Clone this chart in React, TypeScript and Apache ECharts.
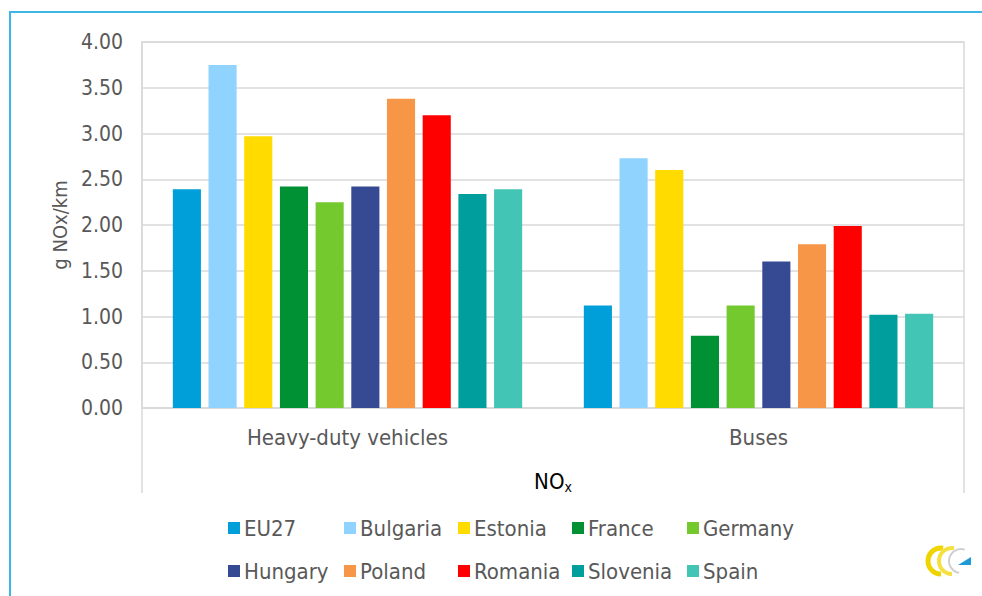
import React, { useEffect, useRef } from "react";
import * as echarts from "echarts";

const categories = ["Heavy-duty vehicles", "Buses"];
const countries = ["EU27", "Bulgaria", "Estonia", "France", "Germany", "Hungary", "Poland", "Romania", "Slovenia", "Spain"];
const heavyDuty = [2.39, 3.75, 2.97, 2.42, 2.25, 2.42, 3.38, 3.2, 2.34, 2.39];
const buses = [1.12, 2.73, 2.6, 0.79, 1.12, 1.6, 1.79, 1.99, 1.02, 1.03];
const colors = ["#009FDA", "#8FD3FE", "#FFDB00", "#009134", "#74C92F", "#364A94", "#F79646", "#FF0000", "#009E9D", "#43C5B5"];
const yTicks = { min: 0, max: 4, interval: 0.5 };

const FONT = "'DejaVu Sans Condensed', 'DejaVu Sans', sans-serif";
const GRAY = "#595959";
const LINE = "#D9D9D9";

export default function App() {
  const ref = useRef<HTMLDivElement>(null);
  useEffect(() => {
    if (!ref.current) return;
    const chart = echarts.init(ref.current, undefined, { renderer: "svg" });
    const legendCols = [228, 344, 458, 572, 687];
    const legendRows = [517, 560];
    const legends = countries.map((c, i) => ({
      data: [c],
      left: legendCols[i % 5],
      top: legendRows[Math.floor(i / 5)],
      padding: 0,
      itemWidth: 12,
      itemHeight: 12,
      itemGap: 0,
      icon: "rect",
      textStyle: { fontFamily: FONT, fontSize: 22, color: GRAY, padding: [0, 0, 0, -1] },
    }));
    chart.setOption({
      animation: false,
      backgroundColor: "#fff",
      textStyle: { fontFamily: FONT },
      grid: { left: 142, top: 42, right: 18, bottom: 188, show: true, borderColor: LINE, borderWidth: 1.5 },
      legend: legends,
      xAxis: {
        type: "category",
        data: categories,
        axisLine: { lineStyle: { color: LINE, width: 1.5 } },
        axisTick: { show: false },
        axisLabel: { fontFamily: FONT, fontSize: 22, color: GRAY, margin: 18 },
        name: "NO{s|x}",
        nameLocation: "middle",
        nameGap: 61,
        nameTextStyle: {
          fontFamily: FONT,
          fontSize: 22,
          color: "#000",
          verticalAlign: "top",
          rich: { s: { fontFamily: FONT, fontSize: 14, color: "#000", verticalAlign: "bottom", padding: [11, 0, 0, 0] } },
        },
      },
      yAxis: {
        type: "value",
        min: yTicks.min,
        max: yTicks.max,
        interval: yTicks.interval,
        axisLine: { show: true, lineStyle: { color: LINE, width: 1.5 } },
        splitLine: { lineStyle: { color: LINE, width: 1.5 } },
        axisLabel: { fontFamily: FONT, fontSize: 21, color: GRAY, margin: 19, formatter: (v: number) => v.toFixed(2) },
        name: "g NOx/km",
        nameLocation: "middle",
        nameGap: 71,
        nameTextStyle: { fontFamily: FONT, fontSize: 20, color: GRAY },
      },
      series: countries.map((c, i) => ({
        name: c,
        type: "bar",
        data: [heavyDuty[i], buses[i]],
        itemStyle: { color: colors[i] },
        barGap: "27%",
        barCategoryGap: "15%",
      })),
      graphic: [
        { type: "rect", shape: { x: 10, y: 12, width: 1000, height: 600 }, style: { fill: "none", stroke: "#3DB5E6", lineWidth: 2 }, silent: true },
        { type: "line", shape: { x1: 142, y1: 408, x2: 142, y2: 493 }, style: { stroke: LINE, lineWidth: 1.5 } },
        { type: "line", shape: { x1: 964, y1: 408, x2: 964, y2: 493 }, style: { stroke: LINE, lineWidth: 1.5 } },
        { type: "arc", shape: { cx: 941, cy: 561, r: 13, startAngle: Math.PI * 0.5, endAngle: Math.PI * 1.55, clockwise: true }, style: { stroke: "#F0D400", lineWidth: 5, fill: "none" } },
        { type: "arc", shape: { cx: 952, cy: 561, r: 13, startAngle: Math.PI * 0.5, endAngle: Math.PI * 1.55, clockwise: true }, style: { stroke: "#F5E040", lineWidth: 4, fill: "none" } },
        { type: "arc", shape: { cx: 961, cy: 561, r: 12, startAngle: Math.PI * 0.55, endAngle: Math.PI * 1.6, clockwise: true }, style: { stroke: "#CFCFCF", lineWidth: 2, fill: "none" } },
        { type: "polygon", shape: { points: [[958, 565], [971, 565], [971, 557]] }, style: { fill: "#1E9BD7" } },
      ],
    });
    return () => chart.dispose();
  }, []);
  return <div ref={ref} style={{ position: "fixed", left: 0, top: 0, width: 982, height: 596 }} />;
}
